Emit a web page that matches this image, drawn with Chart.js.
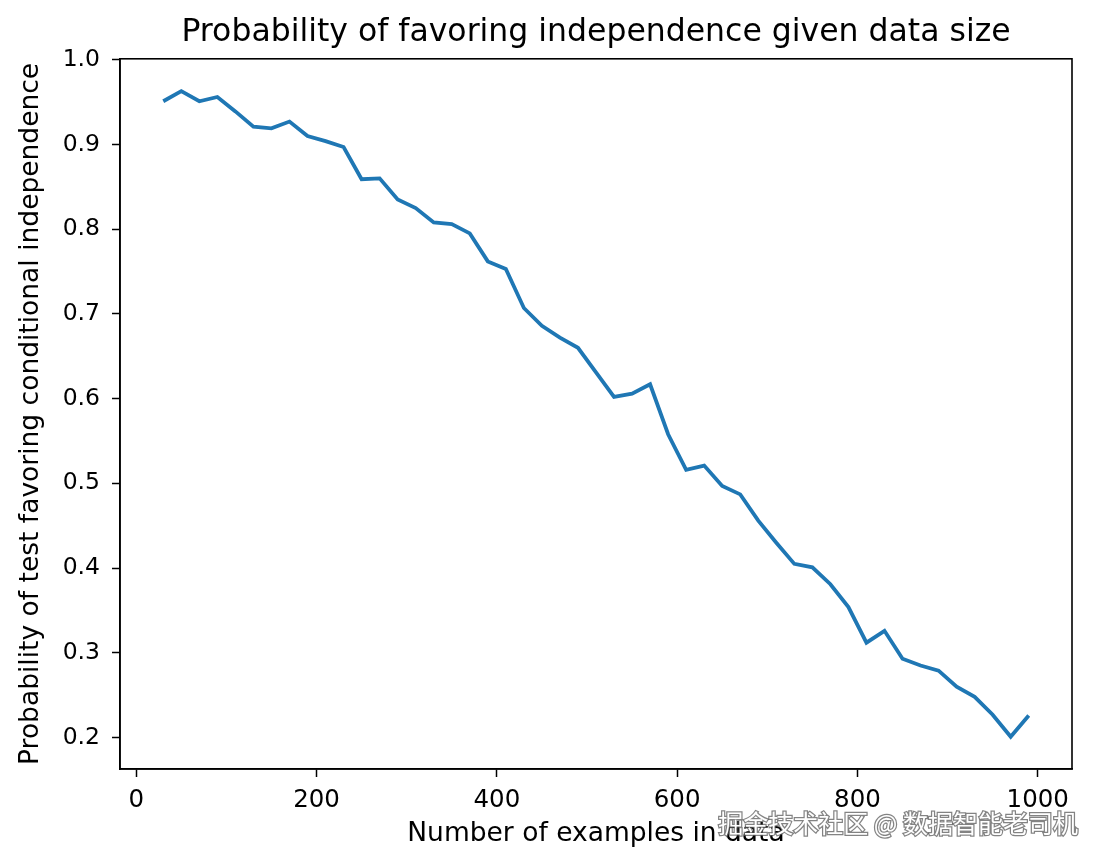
<!DOCTYPE html>
<html>
<head>
<meta charset="utf-8">
<title>Probability of favoring independence given data size</title>
<script src="https://cdn.jsdelivr.net/npm/chart.js@4/dist/chart.umd.min.js"></script>
<style>
  html, body { margin: 0; padding: 0; background: #fff; }
  canvas { display: block; }
</style>
</head>
<body>
<canvas id="chart" width="1100" height="861"></canvas>
<script>
// Data
const sampleSizes = [30, 50, 70, 90, 110, 130, 150, 170, 190, 210,
  230, 250, 270, 290, 310, 330, 350, 370, 390, 410,
  430, 450, 470, 490, 510, 530, 550, 570, 590, 610,
  630, 650, 670, 690, 710, 730, 750, 770, 790, 810,
  830, 850, 870, 890, 910, 930, 950, 970, 990];
const probIndependence = [0.951, 0.963, 0.951, 0.956, 0.939, 0.921, 0.919, 0.927, 0.910, 0.904,
  0.897, 0.859, 0.860, 0.835, 0.825, 0.808, 0.806, 0.795, 0.762, 0.753,
  0.707, 0.686, 0.672, 0.660, 0.631, 0.602, 0.606, 0.617, 0.558, 0.516,
  0.521, 0.497, 0.487, 0.456, 0.430, 0.405, 0.401, 0.381, 0.354, 0.312,
  0.326, 0.293, 0.285, 0.279, 0.260, 0.248, 0.227, 0.201, 0.226];
const xTicks = [0, 200, 400, 600, 800, 1000];
const yTicks = [0.2, 0.3, 0.4, 0.5, 0.6, 0.7, 0.8, 0.9, 1.0];

const FONT = "'DejaVu Sans', sans-serif";

// matplotlib-style 5% margins around the data
function withMargin(values) {
  const lo = Math.min(...values), hi = Math.max(...values);
  const m = (hi - lo) * 0.05;
  return [lo - m, hi + m];
}
const [xMin, xMax] = withMargin(sampleSizes);
const [yMin, yMax] = withMargin(probIndependence);

// draws the top/right spines and the watermark
const framePlugin = {
  id: 'frame',
  afterDraw(chart) {
    const { ctx, chartArea: a } = chart;
    ctx.save();
    ctx.strokeStyle = '#000';
    ctx.lineWidth = 1.6;
    ctx.strokeRect(a.left, a.top, a.right - a.left, a.bottom - a.top);

    ctx.font = "25px 'Noto Sans CJK SC', sans-serif";
    ctx.textAlign = 'right';
    ctx.textBaseline = 'middle';
    ctx.lineWidth = 2.5;
    ctx.strokeStyle = 'rgba(90,90,90,0.75)';
    ctx.strokeText('掘金技术社区 @ 数据智能老司机', 1078, 823);
    ctx.fillStyle = '#fff';
    ctx.fillText('掘金技术社区 @ 数据智能老司机', 1078, 823);
    ctx.restore();
  }
};

new Chart(document.getElementById('chart'), {
  type: 'line',
  data: {
    datasets: [{
      data: sampleSizes.map((x, i) => ({ x: x, y: probIndependence[i] })),
      borderColor: '#1f77b4',
      borderWidth: 3.8,
      pointRadius: 0,
      tension: 0,
      fill: false
    }]
  },
  options: {
    responsive: false,
    animation: false,
    layout: { padding: { left: 0, right: 28, top: 0, bottom: 0 } },
    plugins: {
      legend: { display: false },
      tooltip: { enabled: false },
      title: {
        display: true,
        fullSize: false,
        text: 'Probability of favoring independence given data size',
        color: '#000',
        font: { family: FONT, size: 31.5, weight: 'normal' },
        padding: { top: 14, bottom: 7 }
      }
    },
    scales: {
      x: {
        type: 'linear',
        min: xMin,
        max: xMax,
        afterBuildTicks: s => { s.ticks = xTicks.map(v => ({ value: v })); },
        afterFit: s => { s.height = 92; },
        grid: { drawOnChartArea: false, drawTicks: true, tickLength: 8, tickColor: '#000', tickWidth: 1.5 },
        border: { display: true, color: '#000', width: 1.6 },
        ticks: {
          color: '#000',
          font: { family: FONT, size: 24.5 },
          padding: 9,
          maxRotation: 0,
          callback: v => String(v)
        },
        title: {
          display: true,
          text: 'Number of examples in data',
          color: '#000',
          font: { family: FONT, size: 26.5 },
          padding: { top: 0, bottom: 11 }
        }
      },
      y: {
        type: 'linear',
        min: yMin,
        max: yMax,
        afterBuildTicks: s => { s.ticks = yTicks.map(v => ({ value: v })); },
        afterFit: s => { s.width = 120; },
        grid: { drawOnChartArea: false, drawTicks: true, tickLength: 8, tickColor: '#000', tickWidth: 1.5 },
        border: { display: true, color: '#000', width: 1.6 },
        ticks: {
          color: '#000',
          font: { family: FONT, size: 23.5 },
          padding: 12,
          callback: v => v.toFixed(1)
        },
        title: {
          display: true,
          text: 'Probability of test favoring conditional independence',
          color: '#000',
          font: { family: FONT, size: 26.5 },
          padding: { top: 15, bottom: 0 }
        }
      }
    }
  },
  plugins: [framePlugin]
});
</script>
</body>
</html>
